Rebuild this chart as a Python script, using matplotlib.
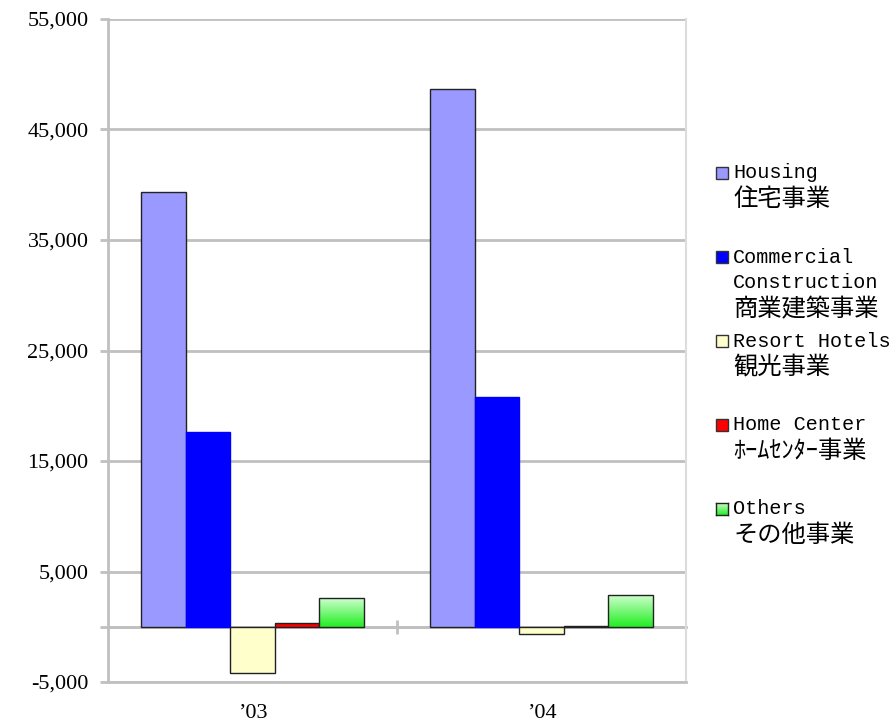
import matplotlib
matplotlib.use("Agg")
import matplotlib.pyplot as plt
import numpy as np
from matplotlib.patches import Rectangle
from matplotlib.colors import LinearSegmentedColormap

# ---- data ----
years = ["’03", "’04"]
series_en = ["Housing", "Commercial\nConstruction", "Resort Hotels", "Home Center", "Others"]
series_ja = ["住宅事業", "商業建築事業", "観光事業", "ﾎｰﾑｾﾝﾀｰ事業", "その他事業"]
housing = [39300, 48700]
commercial = [17650, 20800]
resort = [-4150, -630]
home_center = [360, 80]
others = [2620, 2830]
values = [housing, commercial, resort, home_center, others]
colors = ["#9999ff", "#0000ff", "#ffffcc", "#ff0000", None]
ytick_vals = [-5000, 0, 5000, 15000, 25000, 35000, 45000, 55000]
ytick_labels = ["-5,000", "", "5,000", "15,000", "25,000", "35,000", "45,000", "55,000"]

W, H = 893, 722
fig = plt.figure(figsize=(W / 100, H / 100), dpi=100)
ax = fig.add_axes([108 / W, 40 / H, 578 / W, 663 / H])

ymin, ymax = -5000, 55000

n = len(values)
w = 1 / (n + 1.5)
x = np.arange(len(years))
green_grad = np.linspace(0, 1, 100).reshape(-1, 1)
gcmap = LinearSegmentedColormap.from_list("g", ["#22ee22", "#ccffcc"])

for i, vals in enumerate(values):
    pos = x + (i - (n - 1) / 2) * w
    if colors[i] is None:
        bars = ax.bar(pos, vals, width=w, color="none", edgecolor="#222222", linewidth=1, zorder=4)
        for b in bars:
            x0, y0 = b.get_x(), b.get_y()
            bw, bh = b.get_width(), b.get_height()
            im = ax.imshow(green_grad, cmap=gcmap, aspect="auto", origin="lower",
                           extent=(x0, x0 + bw, y0, y0 + bh), zorder=3)
            im.set_clip_path(b)
    else:
        ec = "#0000ff" if i == 1 else "#222222"
        ax.bar(pos, vals, width=w, color=colors[i], edgecolor=ec, linewidth=1, zorder=3)

ax.set_xlim(-0.5, 1.5)
ax.set_ylim(ymin, ymax)

# grid & spines
grid_c = "#c0c0c0"
ax.set_yticks(ytick_vals)
ax.set_yticklabels(ytick_labels, fontfamily="Liberation Serif", fontsize=16)
ax.yaxis.grid(True, color=grid_c, linewidth=2, zorder=1)
ax.set_axisbelow(True)
ax.tick_params(axis="y", length=6, width=2, color=grid_c, pad=8)
ax.set_xticks(x)
ax.set_xticklabels(years, fontfamily="Liberation Serif", fontsize=16)
ax.tick_params(axis="x", length=0, pad=16)
for s in ["left", "bottom"]:
    ax.spines[s].set_color(grid_c)
    ax.spines[s].set_linewidth(2)
ax.spines["top"].set_visible(False)
ax.spines["right"].set_color("#dcdcdc")
ax.spines["right"].set_linewidth(1.5)

# zero line with category boundary tick
frac0 = (0 - ymin) / (ymax - ymin)
sec = ax.secondary_xaxis(frac0)
sec.spines["bottom"].set_color(grid_c)
sec.spines["bottom"].set_linewidth(2)
sec.set_xticks([0.5])
sec.set_xticklabels([""])
sec.tick_params(axis="x", direction="inout", length=10, width=2, color=grid_c)

# legend (manual)
leg_y = [173, 257, 341, 425, 509]
for i in range(n):
    yy = leg_y[i]
    lx, ly, sz = 716, yy - 6, 12
    if colors[i] is None:
        lax = fig.add_axes([lx / W, (H - ly - sz) / H, sz / W, sz / H])
        lax.imshow(green_grad, cmap=gcmap, aspect="auto", origin="lower")
        lax.set_xticks([]); lax.set_yticks([])
        for sp in lax.spines.values():
            sp.set_color("#222222"); sp.set_linewidth(1)
    else:
        fig.patches.append(Rectangle((lx / W, (H - ly - sz) / H), sz / W, sz / H,
                                     transform=fig.transFigure, facecolor=colors[i],
                                     edgecolor="#333333", linewidth=1))
    en_lines = series_en[i].split("\n")
    ty = yy
    for line in en_lines:
        fig.text(733 / W, (H - ty) / H, line, fontfamily="Liberation Mono", fontsize=14.5,
                 va="center", ha="left")
        ty += 26
    fig.text(733 / W, (H - ty) / H, series_ja[i], fontfamily=["Noto Sans CJK JP", "DejaVu Sans"],
             fontsize=17.5, va="center", ha="left")

fig.savefig("out.png", dpi=100)
